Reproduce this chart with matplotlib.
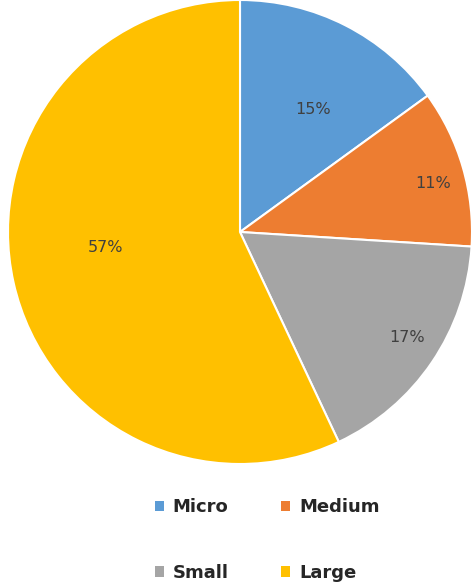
import numpy as np
import matplotlib
matplotlib.use("Agg")
import matplotlib.pyplot as plt
from matplotlib.patches import Patch

# Company size shares, clockwise from 12 o'clock
labels = ["Micro", "Medium", "Small", "Large"]
shares = [15, 11, 17, 57]
colors = ["#5B9BD5", "#ED7D31", "#A5A5A5", "#FFC000"]
# percentage label placement: radius (fraction) and angle nudge (deg)
label_radius = [0.615, 0.86, 0.85, 0.585]
label_nudge = [-4, -2, 2, -6]

fig = plt.figure(figsize=(4.72, 5.88), dpi=100)
ax = fig.add_axes([8 / 472, 124 / 588, 464 / 472, 464 / 588])

wedges, _ = ax.pie(shares, colors=colors, startangle=90, counterclock=False,
                   wedgeprops=dict(edgecolor="white", linewidth=1.5))
ax.set_aspect("equal")
ax.set_xlim(-1.0, 1.0)
ax.set_ylim(-1.0, 1.0)

# percentage labels near the middle angle of each wedge
for w, val, r, dn in zip(wedges, shares, label_radius, label_nudge):
    ang = np.deg2rad((w.theta1 + w.theta2) / 2 + dn)
    ax.text(r * np.cos(ang), r * np.sin(ang), "{}%".format(val),
            ha="center", va="center", fontsize=11.5, color="#404040")

# legend fills column-wise, so reorder to get Micro/Medium on the first row
order = [0, 2, 1, 3]
handles = [Patch(facecolor=colors[i], edgecolor="none") for i in order]
leg = fig.legend(handles, [labels[i] for i in order], ncol=2, loc="center",
                 bbox_to_anchor=(267 / 472, 1 - 540 / 588),
                 frameon=False, handlelength=0.5, handleheight=0.5,
                 handletextpad=0.5, columnspacing=2.9, labelspacing=2.65,
                 borderpad=0, prop=dict(weight="bold", size=13))
for t in leg.get_texts():
    t.set_color("#262626")

fig.savefig("out.png", dpi=100)
